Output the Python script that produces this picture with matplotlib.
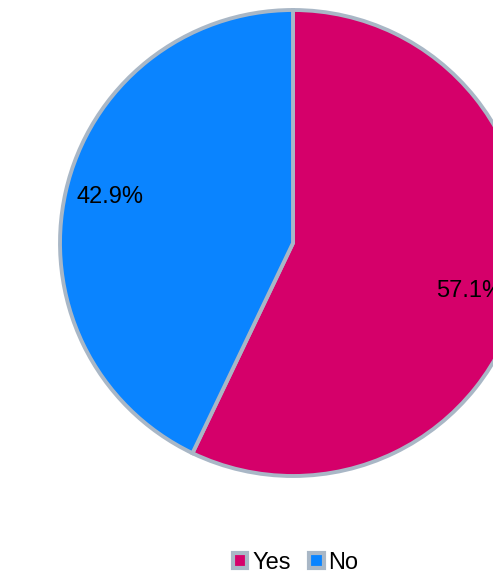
import matplotlib
matplotlib.use("Agg")
import matplotlib.pyplot as plt
from matplotlib.patches import Patch

labels = ["Yes", "No"]
values = [57.1, 42.9]
colors = ["#D5006A", "#0A84FF"]
edge = "#A9B7C6"

W, H = 493, 581
fig = plt.figure(figsize=(W / 100, H / 100), dpi=100)
ax = fig.add_axes([0, 0, 1, 1])
ax.set_xlim(0, W)
ax.set_ylim(0, H)
ax.set_aspect("equal")
ax.axis("off")

cx, cy = 293, H - 243
wedges, texts, autotexts = ax.pie(
    values, colors=colors, startangle=90, counterclock=False,
    center=(cx, cy), radius=233, autopct="%.1f%%", pctdistance=0.79,
    wedgeprops=dict(edgecolor=edge, linewidth=2.8),
    textprops=dict(fontsize=17, family="Liberation Sans", color="black"),
)
# nudge label placement to match reference
autotexts[0].set_position((cx + 177, cy - 48))
autotexts[1].set_position((cx - 183, cy + 46))
ax.set_xlim(0, W)
ax.set_ylim(0, H)

handles = [Patch(facecolor=c, edgecolor=edge, linewidth=3) for c in colors]
fig.legend(handles, labels, loc="center", bbox_to_anchor=(0.6, 1 - 563 / H),
           ncol=2, frameon=False, handlelength=0.6, handleheight=0.6,
           handletextpad=0.2, columnspacing=0.8,
           prop=dict(family="Liberation Sans", size=17))

fig.savefig("out.png", dpi=100)
